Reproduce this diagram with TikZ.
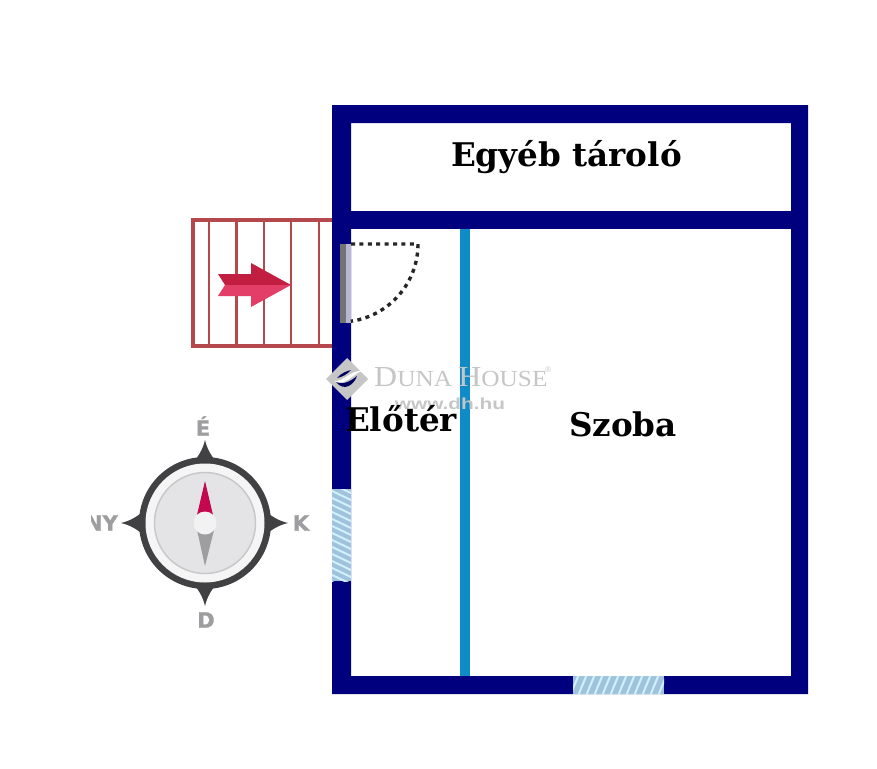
\documentclass[tikz,border=0pt]{standalone}
\usepackage{fontspec}
\setmainfont{DejaVu Serif}
\newfontfamily\lblsans[BoldFeatures={FakeBold=1.2}]{DejaVu Sans}
\newfontfamily\logoserif{Liberation Serif}
\newfontfamily\websans{Liberation Sans}
\definecolor{wallblue}{HTML}{00007F}
\definecolor{partblue}{HTML}{0F8CC8}
\definecolor{stairred}{HTML}{B5484C}
\definecolor{arrowdark}{HTML}{C21E42}
\definecolor{arrowlight}{HTML}{E23E68}
\definecolor{hatchbg}{HTML}{9FC3DC}
\definecolor{hatchline}{HTML}{D2EFFC}
\definecolor{compdark}{HTML}{414143}
\definecolor{compgrey}{HTML}{9E9EA0}
\definecolor{compface}{HTML}{E4E4E6}
\definecolor{compedge}{HTML}{C8C8CA}
\definecolor{compred}{HTML}{C3084F}
\definecolor{wmgrey}{HTML}{C6C6C6}
\tikzset{
  wall/.style={fill=wallblue,draw=none},
  roomlabel/.style={font=\bfseries\fontsize{32.6}{36}\selectfont,text=black,inner sep=0pt,anchor=base},
  dirlabel/.style={font=\lblsans\bfseries\fontsize{21}{24}\selectfont,text=compgrey,inner sep=0pt},
  stairline/.style={draw=stairred,line width=2.4pt},
  hatchstroke/.style={draw=hatchline,line width=2pt}
}
\begin{document}
\begin{tikzpicture}[x=1pt,y=-1pt]
\useasboundingbox (0,0) rectangle (877,768);
\fill[white] (0,0) rectangle (877,768);
% stairs
\draw[stairred,line width=3.4pt] (332,220) -- (193,220) -- (193,346) -- (332,346);
\foreach \sx in {209,236.5,264,291,319} \draw[stairline] (\sx,220) -- (\sx,346);
% arrow
\fill[arrowdark] (218,274) -- (251,274) -- (251,263) -- (291,285) -- (225,285) -- cycle;
\fill[arrowlight] (218,296) -- (251,296) -- (251,307) -- (291,285) -- (225,285) -- cycle;
% walls
\fill[wall,even odd rule] (332,105) rectangle (808,694) (351,123) rectangle (791,676);
\fill[wall] (351,211) rectangle (791,229);
\fill[partblue] (460,229) rectangle (470,676);
% door
\fill[fill=black!55] (340,244) rectangle (345.5,323);
\fill[fill=blue!25!gray!45] (345.5,244) rectangle (351,323);
\draw[black!85,line width=3.4pt,dash pattern=on 4pt off 4.4pt] (351,244) -- (418,244) arc[start angle=0,end angle=82,radius=78];
% windows
\begin{scope}
\clip (332,489) rectangle (351,581);
\fill[hatchbg] (332,489) rectangle (351,581);
\foreach \wy in {476,483,...,590} \draw[hatchstroke] (330,\wy) -- (353,\wy+11);
\end{scope}
\begin{scope}
\clip (573,676) rectangle (664,694);
\fill[hatchbg] (573,676) rectangle (664,694);
\foreach \wx in {570,578,...,674} \draw[hatchstroke] (\wx,696) -- (\wx+9,674);
\end{scope}
% watermark
\fill[wmgrey] (347,358) -- (368,379) -- (347,400) -- (326,379) -- cycle;
\fill[wallblue!75!black] (336,382) .. controls (342,385) and (350,382) .. (357,376) .. controls (354,385) and (344,392) .. (336,382) -- cycle;
\fill[wallblue!75!black] (337,378) .. controls (341,373) and (347,371) .. (351,370) .. controls (347,374) and (343,377) .. (337,378) -- cycle;
\fill[white] (334,381) .. controls (344,382) and (350,370) .. (362,371) .. controls (352,374) and (346,387) .. (334,381) -- cycle;
\node[inner sep=0pt,anchor=base west,text=wmgrey,xscale=1.1] (logotext) at (374,386) {\logoserif\fontsize{29}{32}\selectfont D\fontsize{23}{32}\selectfont UNA \fontsize{29}{32}\selectfont H\fontsize{23}{32}\selectfont OUSE};
\node[inner sep=0pt,text=wmgrey] (logoreg) at (548,370) {\websans\fontsize{8}{9}\selectfont ®};
\node[inner sep=0pt,anchor=base,text=wmgrey,xscale=1.3] (logoweb) at (450,409.5) {\websans\bfseries\fontsize{16}{18}\selectfont www.dh.hu};
% labels
\node[roomlabel] (storage) at (566.5,166) {Egyéb tároló};
\node[roomlabel] (hall) at (401,431) {Előtér};
\node[roomlabel] (room) at (623,436) {Szoba};
% compass
\fill[compdark] (205,440) .. controls (207,449) and (212,458) .. (219,464) -- (191,464) .. controls (198,458) and (203,449) .. (205,440) -- cycle;
\fill[compdark] (205,606) .. controls (207,597) and (212,588) .. (219,582) -- (191,582) .. controls (198,588) and (203,597) .. (205,606) -- cycle;
\fill[compdark] (121,523) .. controls (130,521) and (139,516) .. (145,509) -- (145,537) .. controls (139,530) and (130,525) .. (121,523) -- cycle;
\fill[compdark] (288,523) .. controls (279,521) and (270,516) .. (264,509) -- (264,537) .. controls (270,530) and (279,525) .. (288,523) -- cycle;
\fill[compdark] (205,523) circle[radius=66];
\fill[white!96!black] (205,523) circle[radius=59.5];
\fill[compface,draw=compedge,line width=1.5pt] (205,523) circle[radius=50.5];
\fill[compred] (205,481) -- (213,515) -- (197,515) -- cycle;
\fill[compgrey] (205,566) -- (197,530) -- (214,530) -- cycle;
\fill[white!95!black] (205,523) circle[radius=11.5];
\node[dirlabel] (north) at (203,426) {É};
\begin{scope}
\clip (91,505) rectangle (125,540);
\node[dirlabel,anchor=east] (west) at (118,523) {NY};
\end{scope}
\node[dirlabel] (east) at (301,523) {K};
\node[dirlabel] (south) at (206,620) {D};
\end{tikzpicture}
\end{document}
